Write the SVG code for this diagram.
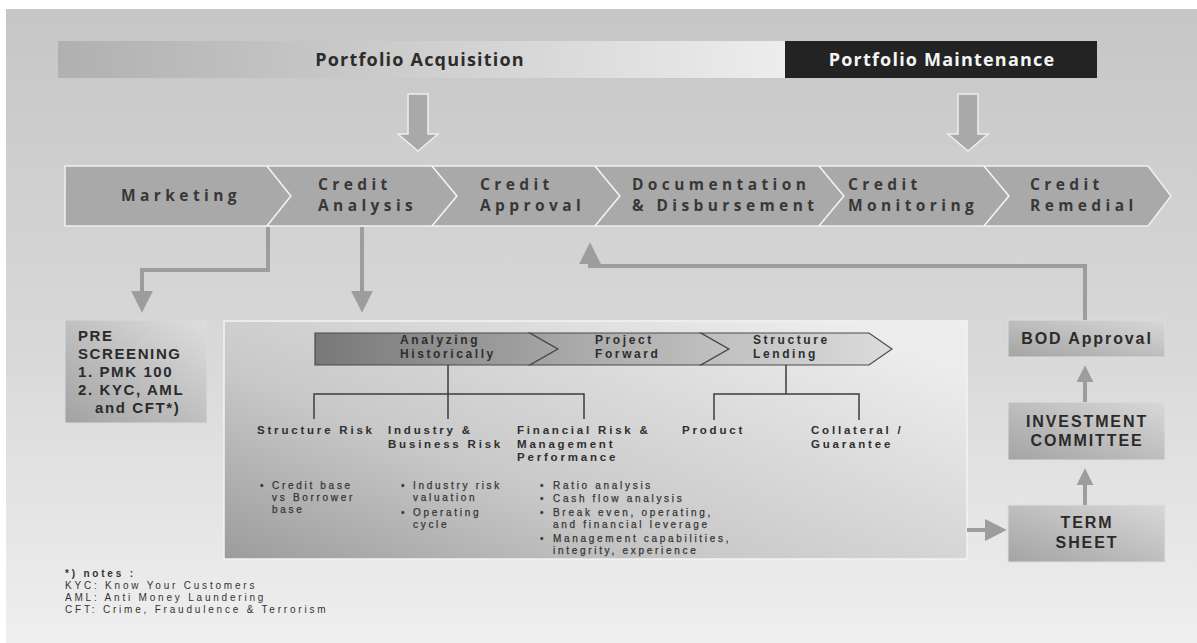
<svg xmlns="http://www.w3.org/2000/svg" width="1197" height="643" viewBox="0 0 1197 643">
  <defs>
    <linearGradient id="bg" x1="0" y1="0" x2="0" y2="1">
      <stop offset="0" stop-color="#c6c6c6"/>
      <stop offset="0.55" stop-color="#d9d9d9"/>
      <stop offset="1" stop-color="#efefef"/>
    </linearGradient>
    <linearGradient id="acq" x1="0" y1="0" x2="1" y2="0">
      <stop offset="0" stop-color="#b0b0b0"/>
      <stop offset="1" stop-color="#ededed"/>
    </linearGradient>
    <linearGradient id="pre" x1="0" y1="1" x2="1" y2="0">
      <stop offset="0" stop-color="#a2a2a2"/>
      <stop offset="1" stop-color="#dedede"/>
    </linearGradient>
    <linearGradient id="panel" x1="0" y1="1" x2="1" y2="0.2">
      <stop offset="0" stop-color="#9c9c9c"/>
      <stop offset="0.4" stop-color="#c9c9c9"/>
      <stop offset="1" stop-color="#ededed"/>
    </linearGradient>
    <linearGradient id="band" gradientUnits="userSpaceOnUse" x1="315" y1="0" x2="892" y2="0">
      <stop offset="0" stop-color="#787878"/>
      <stop offset="0.45" stop-color="#a9a9a9"/>
      <stop offset="1" stop-color="#dcdcdc"/>
    </linearGradient>
    <linearGradient id="side" x1="0" y1="1" x2="1" y2="0">
      <stop offset="0" stop-color="#a4a4a4"/>
      <stop offset="1" stop-color="#d8d8d8"/>
    </linearGradient>
    <marker id="head" viewBox="0 0 10 10" refX="6" refY="5" markerWidth="22" markerHeight="22" markerUnits="userSpaceOnUse" orient="auto">
      <path d="M0,0 L10,5 L0,10 z" fill="#9d9d9d"/>
    </marker>
    <marker id="headS" viewBox="0 0 10 10" refX="6" refY="5" markerWidth="17" markerHeight="17" markerUnits="userSpaceOnUse" orient="auto">
      <path d="M0,0 L10,5 L0,10 z" fill="#9d9d9d"/>
    </marker>
  </defs>
  <style>
    .f { font-family: "Open Sans", "Liberation Sans", sans-serif; }
    .g { font-family: "Liberation Sans", Arial, sans-serif; }
    .bar { font-size: 18px; font-weight: 700; letter-spacing: 1.2px; }
    .stage { font-size: 15.5px; font-weight: 700; letter-spacing: 4.4px; fill: #383838; }
    .seg { fill: #a9a9a9; stroke: #f0f0f0; stroke-width: 1.5; }
    .blk { fill: #a9a9a9; stroke: #eeeeee; stroke-width: 1.5; }
    .box { font-size: 15px; font-weight: 700; letter-spacing: 1.6px; fill: #2b2b2b; }
    .boxR { font-size: 16px; font-weight: 700; letter-spacing: 1.9px; fill: #2b2b2b; }
    .inner { fill: url(#band); stroke: #4a4a4a; stroke-width: 1.2; }
    .phase { font-size: 12px; font-weight: 700; letter-spacing: 2.6px; fill: #2e2e2e; }
    .cat { font-size: 11.5px; font-weight: 700; letter-spacing: 2.8px; fill: #2f2f2f; }
    .item { font-size: 10px; letter-spacing: 2.7px; fill: #363636; stroke: #363636; stroke-width: 0.25; }
    .note { font-size: 10px; letter-spacing: 2.8px; fill: #333333; }
    .tree { fill: none; stroke: #3c3c3c; stroke-width: 1.5; }
    .conn { fill: none; stroke: #9d9d9d; stroke-width: 4; }
  </style>

  <!-- page -->
  <rect x="0" y="0" width="1197" height="643" fill="#ffffff"/>
  <rect x="6" y="9" width="1191" height="634" fill="url(#bg)"/>

  <!-- phase bars -->
  <g id="portfolio-acquisition">
    <rect x="58" y="41" width="727" height="37" fill="url(#acq)"/>
    <text class="f bar" x="420" y="66" text-anchor="middle" fill="#2c2c2c">Portfolio Acquisition</text>
  </g>
  <g id="portfolio-maintenance">
    <rect x="785" y="41" width="312" height="37" fill="#232323"/>
    <text class="f bar" x="942" y="66" text-anchor="middle" fill="#f4f4f4">Portfolio Maintenance</text>
  </g>

  <!-- block arrows from the phase bars -->
  <g id="phase-arrows">
    <polygon class="blk" points="408,94 428,94 428,134 438,134 418,151 398,134 408,134"/>
    <polygon class="blk" points="958,94 978,94 978,134 988,134 968,151 948,134 958,134"/>
  </g>

  <!-- process chevrons -->
  <g id="marketing">
    <polygon class="seg" points="65,166 267,166 291,196 267,226 65,226"/>
    <text class="f stage" x="181" y="201" text-anchor="middle">Marketing</text>
  </g>
  <g id="credit-analysis">
    <polygon class="seg" points="267,166 432,166 457,196 432,226 267,226 291,196"/>
    <text class="f stage" x="318" y="190">Credit</text>
    <text class="f stage" x="318" y="211">Analysis</text>
  </g>
  <g id="credit-approval">
    <polygon class="seg" points="432,166 595,166 620,196 595,226 432,226 457,196"/>
    <text class="f stage" x="480" y="190">Credit</text>
    <text class="f stage" x="480" y="211">Approval</text>
  </g>
  <g id="documentation-disbursement">
    <polygon class="seg" points="595,166 819,166 844,196 819,226 595,226 620,196"/>
    <text class="f stage" x="632" y="190">Documentation</text>
    <text class="f stage" x="632" y="211">&amp; Disbursement</text>
  </g>
  <g id="credit-monitoring">
    <polygon class="seg" points="819,166 984,166 1009,196 984,226 819,226 844,196"/>
    <text class="f stage" x="848" y="190">Credit</text>
    <text class="f stage" x="848" y="211">Monitoring</text>
  </g>
  <g id="credit-remedial">
    <polygon class="seg" points="984,166 1148,166 1171,196 1148,226 984,226 1009,196"/>
    <text class="f stage" x="1030" y="190">Credit</text>
    <text class="f stage" x="1030" y="211">Remedial</text>
  </g>

  <!-- pre screening -->
  <g id="pre-screening">
    <rect x="65" y="320" width="142" height="103" fill="url(#pre)" stroke="#dadada" stroke-width="1"/>
    <text class="g box" x="78" y="341">PRE</text>
    <text class="g box" x="78" y="359">SCREENING</text>
    <text class="g box" x="78" y="377">1. PMK 100</text>
    <text class="g box" x="78" y="395">2. KYC, AML</text>
    <text class="g box" x="95" y="413">and CFT*)</text>
  </g>

  <!-- credit analysis detail panel -->
  <g id="analysis-panel">
    <rect x="224" y="321" width="743" height="238" fill="url(#panel)" stroke="#f3f3f3" stroke-width="1.5"/>
    <polygon class="inner" points="315,333 530,333 558,349 530,365 315,365"/>
    <polygon class="inner" points="530,333 701,333 729,349 701,365 530,365 558,349"/>
    <polygon class="inner" points="701,333 869,333 892,349 869,365 701,365 729,349"/>
    <text class="g phase" x="400" y="344">Analyzing</text>
    <text class="g phase" x="400" y="358">Historically</text>
    <text class="g phase" x="595" y="344">Project</text>
    <text class="g phase" x="595" y="358">Forward</text>
    <text class="g phase" x="753" y="344">Structure</text>
    <text class="g phase" x="753" y="358">Lending</text>

    <path class="tree" d="M448,365 V419 M314,419 V394 H584 V419"/>
    <path class="tree" d="M786,365 V394 M714,420 V394 H859 V420"/>

    <text class="g cat" x="257" y="434">Structure Risk</text>
    <text class="g cat" x="388" y="434">Industry &amp;</text>
    <text class="g cat" x="388" y="447.5">Business Risk</text>
    <text class="g cat" x="517" y="434">Financial Risk &amp;</text>
    <text class="g cat" x="517" y="447.5">Management</text>
    <text class="g cat" x="517" y="461">Performance</text>
    <text class="g cat" x="682" y="434">Product</text>
    <text class="g cat" x="811" y="434">Collateral /</text>
    <text class="g cat" x="811" y="447.5">Guarantee</text>

    <text class="g item" x="260" y="489">•</text>
    <text class="g item" x="272" y="489">Credit base</text>
    <text class="g item" x="272" y="501">vs Borrower</text>
    <text class="g item" x="272" y="513">base</text>

    <text class="g item" x="401" y="489">•</text>
    <text class="g item" x="413" y="489">Industry risk</text>
    <text class="g item" x="413" y="501">valuation</text>
    <text class="g item" x="401" y="516">•</text>
    <text class="g item" x="413" y="516">Operating</text>
    <text class="g item" x="413" y="528">cycle</text>

    <text class="g item" x="540" y="489">•</text>
    <text class="g item" x="553" y="489">Ratio analysis</text>
    <text class="g item" x="540" y="502">•</text>
    <text class="g item" x="553" y="502">Cash flow analysis</text>
    <text class="g item" x="540" y="516">•</text>
    <text class="g item" x="553" y="516">Break even, operating,</text>
    <text class="g item" x="553" y="528">and financial leverage</text>
    <text class="g item" x="540" y="542">•</text>
    <text class="g item" x="553" y="542">Management capabilities,</text>
    <text class="g item" x="553" y="554">integrity, experience</text>
  </g>

  <!-- approval chain -->
  <g id="bod-approval">
    <rect x="1008" y="320" width="157" height="37" fill="url(#side)" stroke="#dedede" stroke-width="1"/>
    <text class="g boxR" x="1087" y="344" text-anchor="middle">BOD Approval</text>
  </g>
  <g id="investment-committee">
    <rect x="1008" y="402" width="157" height="58" fill="url(#side)" stroke="#dedede" stroke-width="1"/>
    <text class="g boxR" x="1087" y="427" text-anchor="middle">INVESTMENT</text>
    <text class="g boxR" x="1087" y="446" text-anchor="middle">COMMITTEE</text>
  </g>
  <g id="term-sheet">
    <rect x="1008" y="505" width="157" height="57" fill="url(#side)" stroke="#dedede" stroke-width="1"/>
    <text class="g boxR" x="1087" y="528" text-anchor="middle">TERM</text>
    <text class="g boxR" x="1087" y="548" text-anchor="middle">SHEET</text>
  </g>

  <!-- connectors -->
  <g id="connectors">
    <path class="conn" d="M268,227 V270 H142 V304" marker-end="url(#head)"/>
    <path class="conn" d="M362,227 V304" marker-end="url(#head)"/>
    <path class="conn" d="M1085,320 V266 H590 V251" marker-end="url(#head)"/>
    <path class="conn" d="M967,530 H998" marker-end="url(#head)"/>
    <path class="conn" d="M1085,505 V475" marker-end="url(#headS)"/>
    <path class="conn" d="M1085,402 V372" marker-end="url(#headS)"/>
  </g>

  <!-- footnote -->
  <g id="notes">
    <text class="g note" x="65" y="577" font-weight="700" letter-spacing="0.6">*) notes :</text>
    <text class="g note" x="65" y="589">KYC: Know Your Customers</text>
    <text class="g note" x="65" y="601">AML: Anti Money Laundering</text>
    <text class="g note" x="65" y="613">CFT: Crime, Fraudulence &amp; Terrorism</text>
  </g>
</svg>
